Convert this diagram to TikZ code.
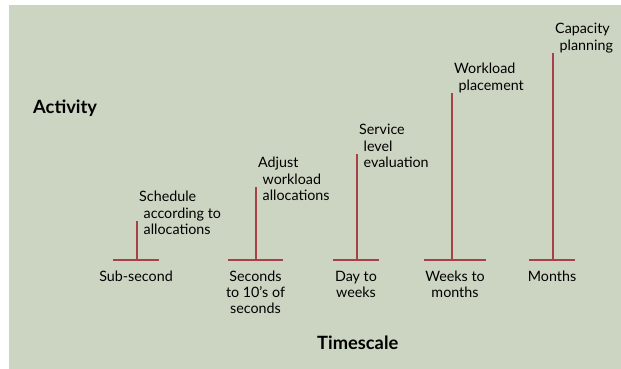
\documentclass[tikz,border=0pt]{standalone}
\usepackage{fontspec}
\setmainfont{Lato}
\usetikzlibrary{positioning}

\definecolor{panel}{HTML}{CCD4C2}
\definecolor{barred}{HTML}{A8404A}
\newcommand{\indentline}{\hspace*{4.5pt}}

\begin{document}
\begin{tikzpicture}[x=1pt, y=-1pt,
    bar/.style={draw=barred, line width=2pt},
    scalelabel/.style={anchor=north, align=center, inner sep=0, font=\fontsize{14.3}{16}\selectfont},
    tasklabel/.style={anchor=north west, align=left, inner sep=0, font=\fontsize{14.3}{16.5}\selectfont},
    axistitle/.style={anchor=west, inner sep=0, font=\fontsize{18.3}{20}\selectfont\bfseries}
]
    \useasboundingbox (0,0) rectangle (621,369);
    \fill [panel] (9,5) rectangle (621,369);

    \node [axistitle] (activity) at (33,108) {Activity};
    \node [axistitle] (timescale) at (317,343) {Timescale};

    % One bar per timescale: foot ends, stem x, stem top, labels
    \foreach \n/\l/\r/\x/\t/\when/\what in {
        1/113/159/137/221/{Sub-second}/{Schedule\\\indentline according to\\\indentline allocations},
        2/228/283/256/187/{Seconds\\to 10's of\\seconds}/{Adjust\\\indentline workload\\\indentline allocations},
        3/333/379/357/154/{Day to\\weeks}/{Service\\\indentline level\\\indentline evaluation},
        4/424/486/452/93/{Weeks to\\months}/{Workload\\\indentline placement},
        5/529/575/553/53/{Months}/{Capacity\\\indentline planning}} {
        \coordinate (foot\n-w) at (\l,260);
        \coordinate (foot\n-e) at (\r,260);
        \coordinate (foot\n) at ({(\l+\r)/2},260);
        \coordinate (stem\n) at (\x,260);
        \coordinate (top\n) at (\x,\t);
        \draw [bar] (foot\n-w) -- (foot\n-e);
        \draw [bar] (stem\n) -- (top\n);
        \node [scalelabel, below=11pt of foot\n] (when\n) {\when};
        \node [tasklabel] (what\n) at ([xshift=2pt, yshift=30pt]top\n) {\what};
    }
\end{tikzpicture}
\end{document}
